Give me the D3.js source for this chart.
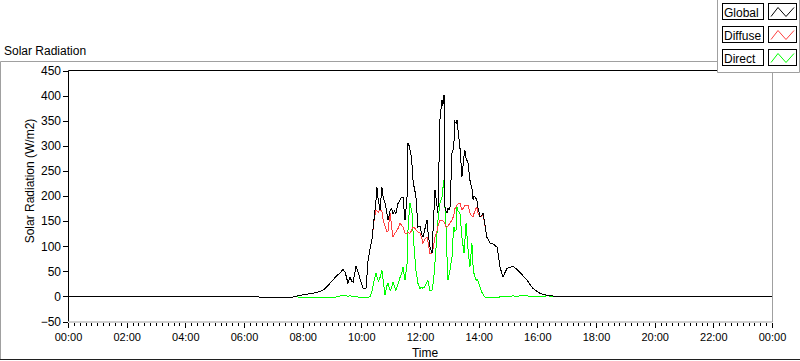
<!DOCTYPE html>
<html>
<head>
<meta charset="utf-8">
<script src="https://cdn.jsdelivr.net/npm/d3@7"></script>
<style>
  body { margin: 0; background: #fff; }
  text { font-family: "Liberation Sans", Arial, sans-serif; fill: #000; }
</style>
</head>
<body>
<svg width="800" height="361"></svg>
<script>
// time of day in hours, shared by the three series
var hours = [0, 6.45, 6.55, 7.6, 7.75, 7.9, 8.1, 8.3, 8.5, 8.69, 8.8, 8.93, 9.05, 9.17, 9.27, 9.375, 9.45, 9.545, 9.61, 9.68,
  9.72, 9.82, 9.88, 9.95, 10.06, 10.16, 10.23, 10.3, 10.36, 10.43, 10.5, 10.53, 10.58, 10.64, 10.7, 10.75, 10.81, 10.86, 10.91, 10.98,
  11.03, 11.08, 11.13, 11.18, 11.25, 11.32, 11.37, 11.42, 11.49, 11.56, 11.59, 11.63, 11.66, 11.7, 11.73, 11.77, 11.8, 11.86, 11.93, 12,
  12.05, 12.1, 12.17, 12.24, 12.27, 12.34, 12.41, 12.46, 12.51, 12.58, 12.61, 12.68, 12.75, 12.78, 12.82, 12.85, 12.89, 12.92, 12.95, 13.02,
  13.09, 13.13, 13.16, 13.19, 13.23, 13.26, 13.3, 13.36, 13.43, 13.5, 13.53, 13.57, 13.64, 13.7, 13.77, 13.81, 13.84, 13.91, 13.94, 13.98,
  14.05, 14.11, 14.15, 14.22, 14.28, 14.39, 14.5, 14.63, 14.73, 14.83, 14.9, 14.97, 15.17, 15.3, 15.41, 15.65, 15.85, 16.09, 16.33, 16.67,
  24];

var globalRad = [0, 0, -2, -2, 0, 2, 4, 6, 8, 12, 18, 26, 34, 42, 46, 54, 48, 26, 38, 30,
  28, 60, 50, 36, 16, 16, 72, 95, 112, 152, 192, 218, 190, 172, 218, 195, 186, 170, 152, 170,
  175, 165, 170, 165, 185, 192, 198, 198, 152, 200, 306, 300, 292, 280, 260, 225, 218, 200, 138, 140,
  125, 118, 135, 152, 130, 98, 86, 150, 212, 180, 166, 352, 392, 380, 402, 178, 170, 166, 175, 172,
  286, 292, 310, 348, 345, 352, 330, 298, 238, 280, 292, 275, 266, 232, 215, 192, 200, 195, 192, 175,
  158, 162, 166, 140, 118, 106, 104, 98, 58, 38, 48, 56, 60, 54, 48, 32, 16, 6, 2, 0,
  0];

var diffuseRad = [0, 0, -2, -2, 0, 2, 4, 6, 8, 12, 18, 26, 34, 42, 46, 54, 48, 26, 38, 30,
  28, 60, 50, 36, 16, 16, 72, 95, 112, 150, 172, 170, 168, 172, 170, 150, 140, 130, 130, 166,
  140, 118, 125, 128, 135, 146, 142, 138, 126, 126, 128, 126, 126, 130, 134, 138, 138, 132, 128, 126,
  118, 106, 115, 118, 110, 86, 86, 100, 118, 130, 140, 152, 152, 150, 148, 145, 138, 138, 140, 146,
  152, 158, 165, 175, 178, 182, 184, 186, 172, 178, 182, 180, 182, 166, 160, 158, 165, 175, 178, 165,
  158, 160, 164, 140, 118, 106, 104, 98, 58, 38, 48, 56, 60, 54, 48, 32, 16, 6, 2, 0,
  0];

var directRad = [0, 0, -2, -2, 0, -2, -2, -2, -2, -2, -2, -2, -2, -1, 1, 2, 2, 0, 2, 0,
  -1, -1, -1, -2, -3, -3, -2, 0, 10, 30, 46, 40, 30, 38, 52, 30, 2, 20, 26, 12,
  16, 28, 20, 12, 25, 38, 45, 58, 32, 66, 132, 165, 186, 175, 166, 120, 98, 52, 26, 16,
  18, 16, 20, 28, 32, 12, 12, 30, 66, 126, 150, 186, 198, 215, 232, 180, 138, 80, 32, 52,
  78, 120, 138, 130, 132, 178, 170, 166, 118, 86, 110, 146, 92, 58, 106, 60, 46, 32, 34, 30,
  18, 8, 4, -2, -2, -2, -2, -2, -1, -1, -1, 0, 1, 0, 1, 1, 0, 0, 1, 0,
  0];

var seriesNames = ["Global", "Diffuse", "Direct"];
var seriesColors = ["#000000", "#ff4040", "#00ff00"];

var xTickHours = [0, 2, 4, 6, 8, 10, 12, 14, 16, 18, 20, 22, 24];
var xTickLabels = ["00:00", "02:00", "04:00", "06:00", "08:00", "10:00", "12:00", "14:00", "16:00", "18:00", "20:00", "22:00", "00:00"];
var yTicks = [-50, 0, 50, 100, 150, 200, 250, 300, 350, 400, 450];

var svg = d3.select("svg");

// plot area bounds
var plotL = 68, plotR = 772, plotT = 70.5, plotB = 321.5;

var x = d3.scaleLinear().domain([0, 24]).range([plotL, plotR]);
var y = d3.scaleLinear().domain([-50, 450]).range([plotB, plotT]);

// outer panel frame
svg.append("path")
  .attr("d", "M0.5,359 V61.5 H718")
  .attr("fill", "none").attr("stroke", "#a0a0a0");
svg.append("line")
  .attr("x1", 0).attr("x2", 800).attr("y1", 359.5).attr("y2", 359.5)
  .attr("stroke", "#202020");

svg.append("text")
  .attr("x", 4).attr("y", 55)
  .style("font-size", "12px")
  .text("Solar Radiation");

// plot background
svg.append("rect")
  .attr("x", plotL).attr("y", plotT).attr("width", plotR - plotL).attr("height", plotB - plotT)
  .attr("fill", "#fff");

// minor x ticks
svg.append("g")
  .attr("transform", "translate(0," + (plotB + 1) + ")")
  .call(d3.axisBottom(x).tickValues(d3.range(0, 24.001, 0.2)).tickSize(3).tickSizeOuter(0).tickFormat(""))
  .call(g => g.select(".domain").remove())
  .selectAll("line").attr("shape-rendering", "crispEdges");

// major x ticks
svg.append("g")
  .attr("transform", "translate(0," + (plotB + 1) + ")")
  .call(d3.axisBottom(x).tickValues(xTickHours).tickSize(5).tickPadding(6).tickSizeOuter(0)
    .tickFormat((d, i) => xTickLabels[i]))
  .call(g => g.select(".domain").remove())
  .call(g => g.selectAll("text").style("font-size", "11px").attr("font-family", null))
  .selectAll("line").attr("shape-rendering", "crispEdges");

// y ticks
svg.append("g")
  .attr("transform", "translate(" + plotL + ",0)")
  .call(d3.axisLeft(y).tickValues(yTicks).tickSize(5).tickPadding(2).tickSizeOuter(0))
  .call(g => g.select(".domain").remove())
  .call(g => g.selectAll("text").style("font-size", "12px").attr("font-family", null))
  .selectAll("line").attr("shape-rendering", "crispEdges");

svg.append("text")
  .attr("x", 425).attr("y", 357)
  .attr("text-anchor", "middle")
  .style("font-size", "12px")
  .text("Time");

svg.append("text")
  .attr("transform", "translate(34,181) rotate(-90)")
  .attr("text-anchor", "middle")
  .style("font-size", "12px")
  .text("Solar Radiation (W/m2)");

// data lines, direct first so global sits on top
svg.append("clipPath").attr("id", "plotclip")
  .append("rect").attr("x", plotL).attr("y", plotT).attr("width", plotR - plotL).attr("height", plotB - plotT);

var line = d3.line()
  .x((d, i) => x(hours[i]))
  .y(d => y(d));

var plotG = svg.append("g").attr("clip-path", "url(#plotclip)");
[[directRad, 2], [diffuseRad, 1], [globalRad, 0]].forEach(function(s) {
  plotG.append("path")
    .datum(s[0])
    .attr("d", line)
    .attr("fill", "none")
    .attr("stroke", seriesColors[s[1]])
    .attr("stroke-width", 1)
    .attr("shape-rendering", "crispEdges");
});

// plot frame: dark top/left, light bottom/right
svg.append("path")
  .attr("d", "M" + (plotL + 0.5) + "," + plotB + " V" + plotT + " H" + plotR)
  .attr("fill", "none").attr("stroke", "#000");
svg.append("path")
  .attr("d", "M" + (plotL + 1) + "," + (plotB + 0.5) + " H" + (plotR + 0.5) + " V" + plotT)
  .attr("fill", "none").attr("stroke", "#a0a0a0");

// legend panel
var legend = svg.append("g");
legend.append("path")
  .attr("d", "M717.5,0 V72.5 H799.5 V0")
  .attr("fill", "#fff").attr("stroke", "#a0a0a0");

var item = legend.selectAll("g.item")
  .data(seriesNames)
  .enter().append("g")
    .attr("class", "item")
    .attr("transform", (d, i) => "translate(0," + (3.5 + i * 23) + ")");
item.append("rect")
  .attr("x", 722.5).attr("width", 41).attr("height", 16)
  .attr("fill", "#fff").attr("stroke", "#000");
item.append("text")
  .attr("x", 724).attr("y", 13)
  .style("font-size", "12px")
  .text(d => d);
item.append("rect")
  .attr("x", 768.5).attr("width", 28).attr("height", 16)
  .attr("fill", "#fff").attr("stroke", "#000");
item.append("path")
  .attr("d", "M771,13 L778,4 L786,13 L794,4")
  .attr("fill", "none")
  .attr("stroke", (d, i) => seriesColors[i]);
</script>
</body>
</html>
